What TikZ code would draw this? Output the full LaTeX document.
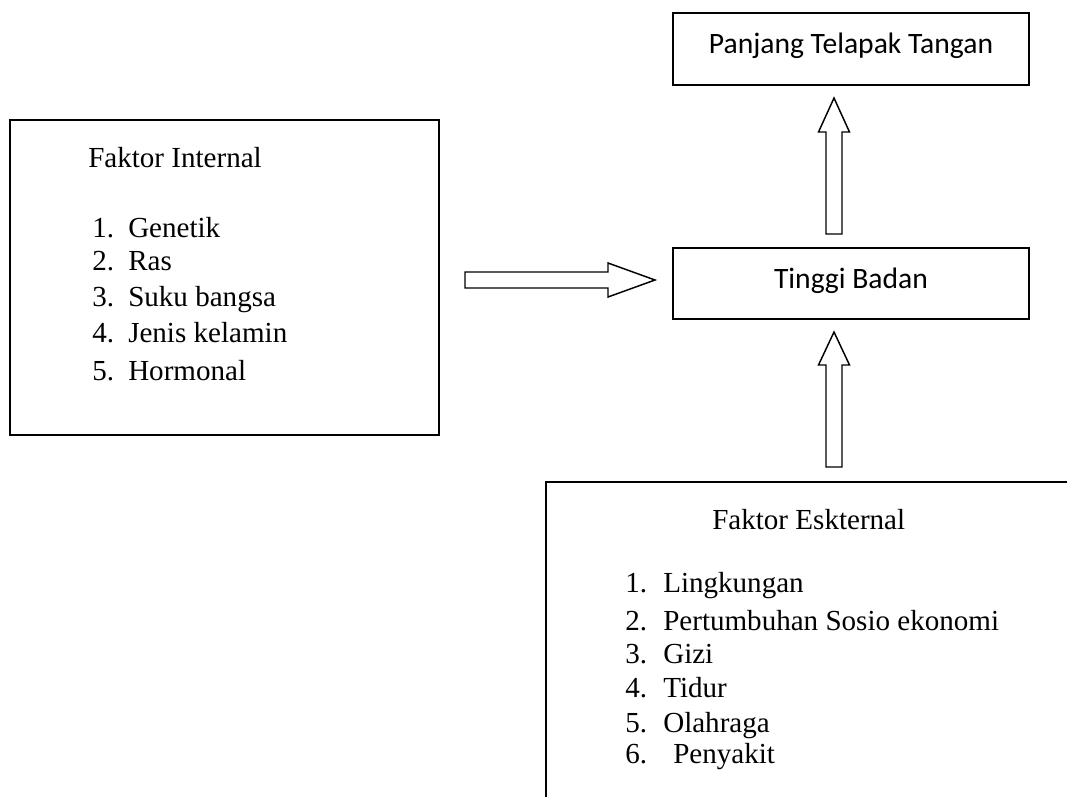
\documentclass[tikz,border=0pt]{standalone}
\usepackage{fontspec}
\setmainfont{Liberation Serif}
\newfontfamily\calib{Carlito}
\usetikzlibrary{calc}
\begin{document}
\begin{tikzpicture}[x=0.75pt,y=-0.75pt,
  box/.style={draw,line width=1.4pt,inner sep=0pt,outer sep=0pt},
  txt/.style={inner sep=0pt,anchor=base west,font=\fontsize{21.8pt}{26pt}\selectfont},
  ctxt/.style={inner sep=0pt,anchor=base,font=\calib\fontsize{22.2pt}{26pt}\selectfont},
  blk/.style={draw,line width=1.1pt,line join=miter,fill=white}]
\clip (0,0) rectangle (1067,796);
\fill[white] (0,0) rectangle (1067,796);
% boxes
\node[box,minimum width=321.75pt,minimum height=236.25pt] (int) at (224.5,277.5) {};
\node[box,minimum width=267pt,minimum height=54pt] (pt) at (851,49) {};
\node[box,minimum width=267pt,minimum height=53.25pt] (tb) at (851,283.5) {};
\node[box,minimum width=396.75pt,minimum height=246pt] (ext) at (810.5,646) {};
% texts
\node[ctxt] (ptt) at (851,53) {Panjang Telapak Tangan};
\node[ctxt] (tbt) at (851,288) {Tinggi Badan};
\node[txt] (intt) at (88,167) {Faktor Internal};
\node[txt] (i1) at (92,237) {\makebox[27pt][l]{1.}Genetik};
\node[txt] (i2) at (92,270) {\makebox[27pt][l]{2.}Ras};
\node[txt] (i3) at (92,306) {\makebox[27pt][l]{3.}Suku bangsa};
\node[txt] (i4) at (92,342) {\makebox[27pt][l]{4.}Jenis kelamin};
\node[txt] (i5) at (92,380) {\makebox[27pt][l]{5.}Hormonal};
\node[txt] (extt) at (712,529) {Faktor Eskternal};
\node[txt] (e1) at (625,592) {\makebox[28.5pt][l]{1.}Lingkungan};
\node[txt] (e2) at (625,630) {\makebox[28.5pt][l]{2.}Pertumbuhan Sosio ekonomi};
\node[txt] (e3) at (625,663) {\makebox[28.5pt][l]{3.}Gizi};
\node[txt] (e4) at (625,697) {\makebox[28.5pt][l]{4.}Tidur};
\node[txt] (e5) at (625,732) {\makebox[28.5pt][l]{5.}Olahraga};
\node[txt] (e6) at (625,763) {\makebox[28.5pt][l]{6.}\hspace{7.5pt}Penyakit};
% arrow end points
\coordinate (hs) at ($(int.east)+(26,2.5)$);
\coordinate (ht) at ($(tb.west)+(-18,-3.5)$);
\coordinate (us) at ($(tb.north)+(-17,-14)$);
\coordinate (ut) at ($(pt.south)+(-17,13)$);
\coordinate (ls) at ($(ext.north)+(23.5,-15)$);
\coordinate (lt) at ($(tb.south)+(-17,13)$);
% horizontal block arrow
\draw[blk] ($(hs)+(0,-8)$) -- ($(ht)+(-47,-8)$) -- ($(ht)+(-47,-17)$) -- (ht)
  -- ($(ht)+(-47,17)$) -- ($(ht)+(-47,8)$) -- ($(hs)+(0,8)$) -- cycle;
% upper vertical block arrow
\draw[blk] ($(us)+(-8,0)$) -- ($(ut)+(-8,34)$) -- ($(ut)+(-15.5,34)$) -- (ut)
  -- ($(ut)+(15.5,34)$) -- ($(ut)+(8,34)$) -- ($(us)+(8,0)$) -- cycle;
% lower vertical block arrow
\draw[blk] ($(ls)+(-8,0)$) -- ($(lt)+(-8,33)$) -- ($(lt)+(-15.5,33)$) -- (lt)
  -- ($(lt)+(15.5,33)$) -- ($(lt)+(8,33)$) -- ($(ls)+(8,0)$) -- cycle;
\end{tikzpicture}
\end{document}
